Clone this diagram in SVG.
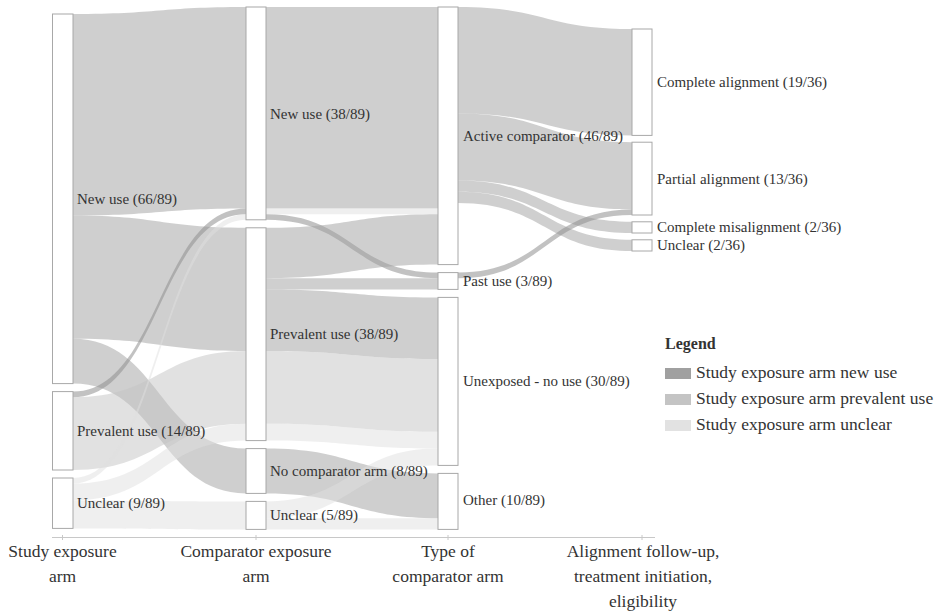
<svg xmlns="http://www.w3.org/2000/svg" width="942" height="614" viewBox="0 0 942 614">
<style>
.f{stroke:none;fill-opacity:0.5}
.new{fill:#a0a0a0}
.prev{fill:#c4c4c4}
.unc{fill:#e0e0e0}
.thin{fill:#909090;fill-opacity:0.55}
.node rect{fill:#ffffff;stroke:#a8a8a8;stroke-width:1}
.lbl{font-family:"Liberation Serif","DejaVu Serif",serif;font-size:15px;fill:#333333}
.ax{font-family:"Liberation Serif","DejaVu Serif",serif;font-size:17.5px;fill:#333333;text-anchor:middle}
.lg{font-family:"Liberation Serif","DejaVu Serif",serif;font-size:17.5px;fill:#333333}
</style>
<rect width="942" height="614" fill="#ffffff"/>
<g id="connectors">
<!-- segment 1 -->
<path class="f new" d="M73,14 C159.5,14 159.5,7 246,7 L246,208.6 C159.5,208.6 159.5,215.6 73,215.6 Z"/>
<path class="f new" d="M73,215.6 C159.5,215.6 159.5,227.8 246,227.8 L246,351 C159.5,351 159.5,338.8 73,338.8 Z"/>
<path class="f new" d="M73,338.8 C159.5,338.8 159.5,448.6 246,448.6 L246,493.4 C159.5,493.4 159.5,383.6 73,383.6 Z"/>
<path class="f prev thin" d="M73,391.6 C159.5,391.6 159.5,208.6 246,208.6 L246,214.2 C159.5,214.2 159.5,397.2 73,397.2 Z"/>
<path class="f prev" d="M73,397.2 C159.5,397.2 159.5,351 246,351 L246,423.8 C159.5,423.8 159.5,470 73,470 Z"/>
<path class="f unc" d="M73,478 C159.5,478 159.5,214.2 246,214.2 L246,219.8 C159.5,219.8 159.5,483.6 73,483.6 Z"/>
<path class="f unc" d="M73,483.6 C159.5,483.6 159.5,423.8 246,423.8 L246,440.6 C159.5,440.6 159.5,500.4 73,500.4 Z"/>
<path class="f unc" d="M73,500.4 C159.5,500.4 159.5,501.4 246,501.4 L246,529.4 C159.5,529.4 159.5,528.4 73,528.4 Z"/>
<!-- segment 2 -->
<path class="f new" d="M266,7 C352,7 352,7 438,7 L438,208.6 C352,208.6 352,208.6 266,208.6 Z"/>
<path class="f unc" d="M266,208.6 C352,208.6 352,208.6 438,208.6 L438,214.2 C352,214.2 352,214.2 266,214.2 Z"/>
<path class="f prev thin" d="M266,214.2 C352,214.2 352,272.6 438,272.6 L438,278.2 C352,278.2 352,219.8 266,219.8 Z"/>
<path class="f new" d="M266,227.8 C352,227.8 352,214.2 438,214.2 L438,264.6 C352,264.6 352,278.2 266,278.2 Z"/>
<path class="f new" d="M266,278.2 C352,278.2 352,278.2 438,278.2 L438,289.4 C352,289.4 352,289.4 266,289.4 Z"/>
<path class="f new" d="M266,289.4 C352,289.4 352,297.4 438,297.4 L438,359 C352,359 352,351 266,351 Z"/>
<path class="f prev" d="M266,351 C352,351 352,359 438,359 L438,431.8 C352,431.8 352,423.8 266,423.8 Z"/>
<path class="f unc" d="M266,423.8 C352,423.8 352,431.8 438,431.8 L438,448.6 C352,448.6 352,440.6 266,440.6 Z"/>
<path class="f new" d="M266,448.6 C352,448.6 352,473.4 438,473.4 L438,518.2 C352,518.2 352,493.4 266,493.4 Z"/>
<path class="f unc" d="M266,501.4 C352,501.4 352,448.6 438,448.6 L438,465.4 C352,465.4 352,518.2 266,518.2 Z"/>
<path class="f unc" d="M266,518.2 C352,518.2 352,518.2 438,518.2 L438,529.4 C352,529.4 352,529.4 266,529.4 Z"/>
<!-- segment 3 -->
<path class="f new" d="M458,7 C545,7 545,29 632,29 L632,135.4 C545,135.4 545,113.4 458,113.4 Z"/>
<path class="f new" d="M458,113.4 C545,113.4 545,142.2 632,142.2 L632,209.4 C545,209.4 545,180.6 458,180.6 Z"/>
<path class="f new" d="M458,180.6 C545,180.6 545,221.8 632,221.8 L632,233 C545,233 545,191.8 458,191.8 Z"/>
<path class="f new" d="M458,191.8 C545,191.8 545,239.8 632,239.8 L632,251 C545,251 545,203 458,203 Z"/>
<path class="f prev thin" d="M458,272.6 C545,272.6 545,209.4 632,209.4 L632,215 C545,215 545,278.2 458,278.2 Z"/>
</g>
<g id="axis" stroke="#c8c8c8" stroke-width="1">
<line x1="52" y1="537.5" x2="655" y2="537.5"/>
<line x1="62.5" y1="535" x2="62.5" y2="540"/>
<line x1="256" y1="535" x2="256" y2="540"/>
<line x1="448" y1="535" x2="448" y2="540"/>
<line x1="642" y1="535" x2="642" y2="540"/>
</g>
<g id="node-s-new" class="node"><rect x="52.5" y="14" width="20.5" height="369.6"/><text class="lbl" x="77" y="204">New use (66/89)</text></g>
<g id="node-s-prev" class="node"><rect x="52.5" y="391.6" width="20.5" height="78.4"/><text class="lbl" x="77" y="436">Prevalent use (14/89)</text></g>
<g id="node-s-unc" class="node"><rect x="52.5" y="478" width="20.5" height="50.4"/><text class="lbl" x="77" y="508">Unclear (9/89)</text></g>
<g id="node-c-new" class="node"><rect x="246" y="7" width="20" height="212.8"/><text class="lbl" x="270" y="119">New use (38/89)</text></g>
<g id="node-c-prev" class="node"><rect x="246" y="227.8" width="20" height="212.8"/><text class="lbl" x="270" y="339">Prevalent use (38/89)</text></g>
<g id="node-c-nocomp" class="node"><rect x="246" y="448.6" width="20" height="44.8"/><text class="lbl" x="270" y="476">No comparator arm (8/89)</text></g>
<g id="node-c-unc" class="node"><rect x="246" y="501.4" width="20" height="28"/><text class="lbl" x="270" y="520">Unclear (5/89)</text></g>
<g id="node-t-active" class="node"><rect x="438" y="7" width="20" height="257.6"/><text class="lbl" x="463" y="140.5">Active comparator (46/89)</text></g>
<g id="node-t-past" class="node"><rect x="438" y="272.6" width="20" height="16.8"/><text class="lbl" x="463" y="286">Past use (3/89)</text></g>
<g id="node-t-unexp" class="node"><rect x="438" y="297.4" width="20" height="168"/><text class="lbl" x="463" y="386">Unexposed - no use (30/89)</text></g>
<g id="node-t-other" class="node"><rect x="438" y="473.4" width="20" height="56"/><text class="lbl" x="463" y="505">Other (10/89)</text></g>
<g id="node-a-complete" class="node"><rect x="632" y="29" width="20" height="106.4"/><text class="lbl" x="657" y="87">Complete alignment (19/36)</text></g>
<g id="node-a-partial" class="node"><rect x="632" y="142.2" width="20" height="72.8"/><text class="lbl" x="657" y="183.5">Partial alignment (13/36)</text></g>
<g id="node-a-misalign" class="node"><rect x="632" y="221.8" width="20" height="11.2"/><text class="lbl" x="657" y="232">Complete misalignment (2/36)</text></g>
<g id="node-a-unclear" class="node"><rect x="632" y="239.8" width="20" height="11.2"/><text class="lbl" x="657" y="250">Unclear (2/36)</text></g>
<g id="axis-labels">
<text class="ax" x="62.5" y="557">Study exposure</text>
<text class="ax" x="62.5" y="582">arm</text>
<text class="ax" x="256" y="557">Comparator exposure</text>
<text class="ax" x="256" y="582">arm</text>
<text class="ax" x="448" y="557">Type of</text>
<text class="ax" x="448" y="582">comparator arm</text>
<text class="ax" x="643" y="557">Alignment follow-up,</text>
<text class="ax" x="643" y="582">treatment initiation,</text>
<text class="ax" x="643" y="607">eligibility</text>
</g>
<g id="legend">
<text x="665" y="349" font-family="Liberation Serif, DejaVu Serif, serif" font-size="16" font-weight="bold" fill="#333333">Legend</text>
<rect x="665" y="368" width="26" height="11" fill="#a0a0a0"/>
<text class="lg" x="696" y="378">Study exposure arm new use</text>
<rect x="665" y="394" width="26" height="11" fill="#c4c4c4"/>
<text class="lg" x="696" y="404">Study exposure arm prevalent use</text>
<rect x="665" y="420" width="26" height="11" fill="#e2e2e2"/>
<text class="lg" x="696" y="430">Study exposure arm unclear</text>
</g>
</svg>
